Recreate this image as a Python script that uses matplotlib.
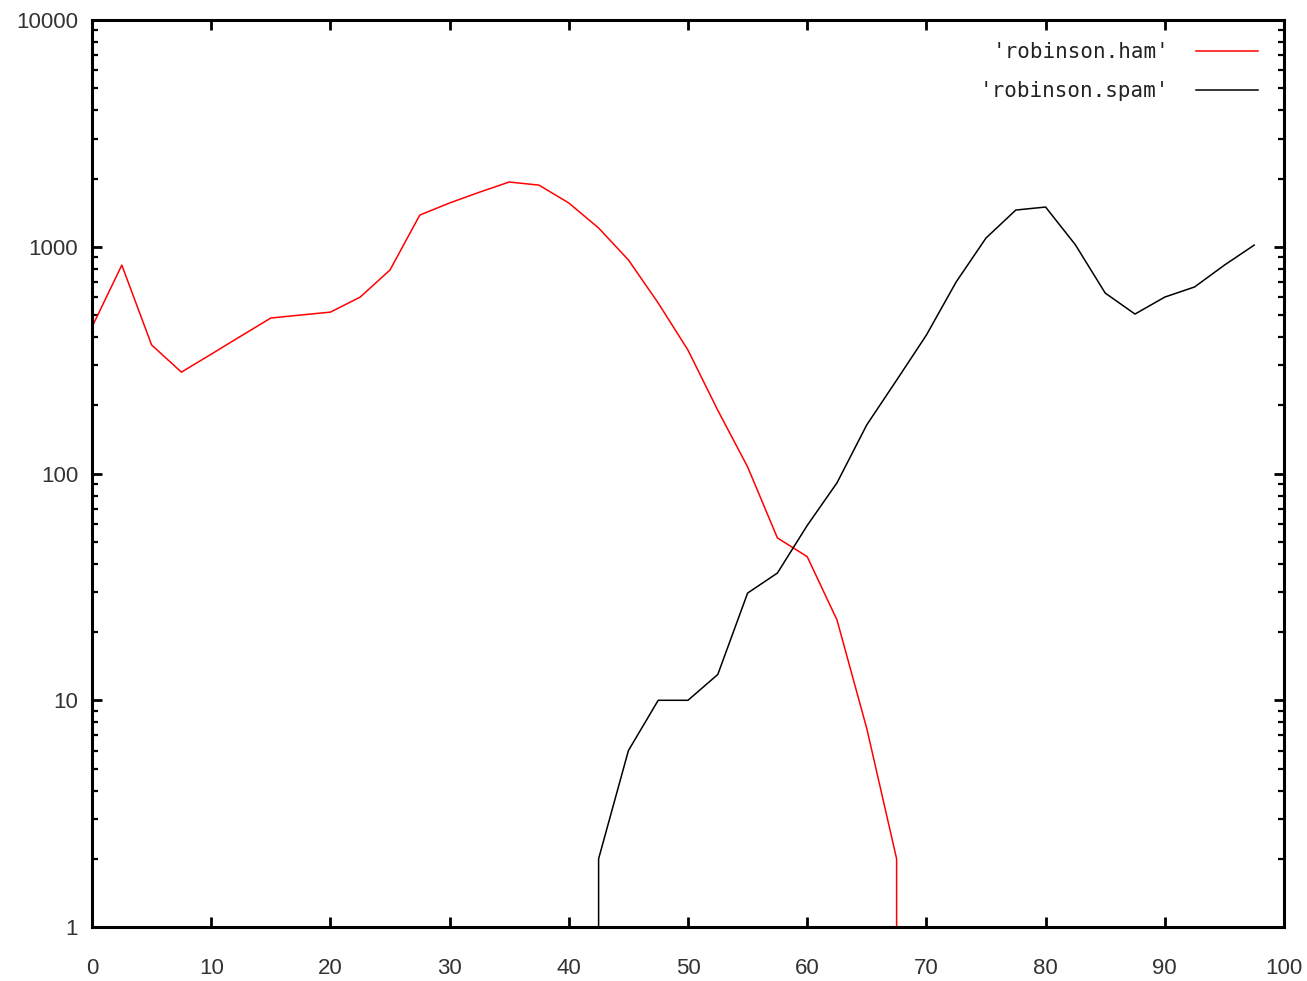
import matplotlib
matplotlib.use("Agg")
import matplotlib.pyplot as plt
from matplotlib.ticker import LogLocator, FixedLocator, NullFormatter

# data (log-scale counts per 2.5 bin)
ham_x = [0, 2.5, 5, 7.5, 10, 12.5, 15, 17.5, 20, 22.5, 25, 27.5, 30, 32.5, 35,
         37.5, 40, 42.5, 45, 47.5, 50, 52.5, 55, 57.5, 60, 62.5, 65, 67.5, 67.5]
ham_y = [443, 830, 369, 280, 336, 404, 485, 500, 515, 600, 790, 1380, 1560, 1740, 1930,
         1870, 1560, 1210, 875, 565, 350, 190, 107, 52, 43, 22.6, 7.5, 2, 1]

spam_x = [42.5, 42.5, 45, 47.5, 50, 52.5, 55, 57.5, 60, 62.5, 65, 67.5, 70, 72.5,
          75, 77.5, 80, 82.5, 85, 87.5, 90, 92.5, 95, 97.5]
spam_y = [1, 2, 6, 10, 10, 13, 29.7, 36.4, 59, 91, 164, 258, 408, 700,
          1093, 1452, 1497, 1020, 625, 505, 600, 665, 830, 1017]

x_ticks = [0, 10, 20, 30, 40, 50, 60, 70, 80, 90, 100]
y_ticks = [1, 10, 100, 1000, 10000]


def main():
    fig = plt.figure(figsize=(13.07, 9.81), dpi=100)
    ax = fig.add_axes([0.0704, 0.055, 0.9120, 0.9246])

    ax.plot(ham_x, ham_y, color="#ff0000", lw=1.1, label="'robinson.ham'")
    ax.plot(spam_x, spam_y, color="#000000", lw=1.1, label="'robinson.spam'")

    ax.set_yscale("log")
    ax.set_xlim(0, 100)
    ax.set_ylim(1, 10000)

    ax.xaxis.set_major_locator(FixedLocator(x_ticks))
    ax.yaxis.set_major_locator(FixedLocator(y_ticks))
    ax.yaxis.set_minor_locator(LogLocator(base=10, subs=range(2, 10)))
    ax.yaxis.set_minor_formatter(NullFormatter())
    ax.set_xticklabels([str(v) for v in x_ticks])
    ax.set_yticklabels([str(v) for v in y_ticks])

    for s in ax.spines.values():
        s.set_linewidth(2.2)
    ax.tick_params(which="major", direction="in", length=7, width=2,
                   top=True, right=True, labelsize=16, labelcolor="#333333")
    ax.tick_params(axis="x", pad=22)
    ax.tick_params(axis="y", pad=10)
    ax.tick_params(which="minor", direction="in", length=4, width=1.6,
                   left=True, right=True)
    for lab in ax.get_xticklabels() + ax.get_yticklabels():
        lab.set_family("Liberation Sans")

    leg = ax.legend(loc="upper right", bbox_to_anchor=(0.978, 0.9757),
                    frameon=False, markerfirst=False,
                    prop={"family": "DejaVu Sans Mono", "size": 15},
                    handlelength=2.95, handletextpad=1.3, labelspacing=0.92,
                    borderaxespad=0, borderpad=0)
    for t in leg.get_texts():
        t.set_color("#222222")
        t.set_ha("right")

    fig.savefig("out.png", dpi=100)
    plt.close(fig)


if __name__ == "__main__":
    main()
